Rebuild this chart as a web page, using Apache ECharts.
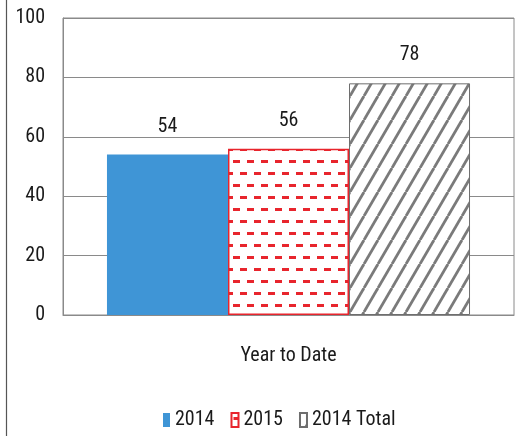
<!DOCTYPE html>
<html><head><meta charset="utf-8">
<script src="https://cdn.jsdelivr.net/npm/echarts@6/dist/echarts.min.js"></script>
<style>html,body{margin:0;padding:0;background:#fff}#c{width:521px;height:436px}</style>
</head><body><div id="c"></div>
<script>
var categories = ['Year to Date'];
var seriesNames = ['2014', '2015', '2014 Total'];
var values2014 = [54];
var values2015 = [56];
var values2014Total = [78];
var yTicks = [0, 20, 40, 60, 80, 100];

var FONT = "'Roboto Condensed','DejaVu Sans Condensed',sans-serif";
var TXT = '#1a1a1a';

function dashPattern() {
  var c = document.createElement('canvas');
  c.width = 14; c.height = 24;
  var g = c.getContext('2d');
  g.fillStyle = '#fff'; g.fillRect(0, 0, 14, 24);
  g.fillStyle = '#e8252d';
  g.fillRect(2, 4, 7, 3);
  g.fillRect(9, 16, 5, 3);
  g.fillRect(0, 16, 2, 3);
  return c;
}
function hatchPattern() {
  var w = 14, h = 24;
  var c = document.createElement('canvas');
  c.width = w; c.height = h;
  var g = c.getContext('2d');
  g.fillStyle = '#fff'; g.fillRect(0, 0, w, h);
  g.strokeStyle = '#7a7a7a'; g.lineWidth = 2.8;
  for (var k = -1; k <= 1; k++) {
    g.beginPath(); g.moveTo(k * w, h); g.lineTo(k * w + w, 0); g.stroke();
  }
  return c;
}

var chart = echarts.init(document.getElementById('c'), null, {renderer: 'canvas'});
var labelStyle = {show: true, position: 'top', distance: 18, color: TXT, fontFamily: FONT, fontSize: 20};
chart.setOption({
  animation: false,
  backgroundColor: '#fff',
  graphic: [{type: 'line', shape: {x1: 6.5, y1: 0, x2: 6.5, y2: 436}, style: {stroke: '#555', lineWidth: 1.2}}],
  grid: {left: 63, right: 7, top: 18, bottom: 121, show: true, borderColor: '#8a8a8a', borderWidth: 1},
  legend: {
    top: 410, left: 163, padding: 0, itemWidth: 7, itemHeight: 14, itemGap: 16,
    icon: 'rect',
    textStyle: {fontFamily: FONT, fontSize: 20, color: TXT, padding: [0, 0, 0, 0]},
    data: seriesNames
  },
  xAxis: {
    type: 'category', data: categories,
    axisLine: {show: true, lineStyle: {color: '#8a8a8a'}},
    axisTick: {show: false},
    axisLabel: {margin: 31, fontFamily: FONT, fontSize: 20, color: TXT}
  },
  yAxis: {
    type: 'value', min: yTicks[0], max: yTicks[yTicks.length - 1], interval: 20,
    axisLine: {show: true, lineStyle: {color: '#8a8a8a'}},
    axisTick: {show: false},
    splitLine: {lineStyle: {color: '#8a8a8a', width: 1}},
    axisLabel: {margin: 18, fontFamily: FONT, fontSize: 20, color: TXT}
  },
  series: [
    {name: seriesNames[0], type: 'bar', data: values2014, barGap: '0%', barCategoryGap: '19.5%',
      itemStyle: {color: '#3f95d6'}, label: labelStyle},
    {name: seriesNames[1], type: 'bar', data: values2015, barGap: '0%', barCategoryGap: '19.5%',
      itemStyle: {color: {image: dashPattern(), repeat: 'repeat'}, borderColor: '#e8252d', borderWidth: 1.5}, label: labelStyle},
    {name: seriesNames[2], type: 'bar', data: values2014Total, barGap: '0%', barCategoryGap: '19.5%',
      itemStyle: {color: {image: hatchPattern(), repeat: 'repeat'}, borderColor: '#6e6e6e', borderWidth: 1}, label: labelStyle}
  ]
});
</script></body></html>
